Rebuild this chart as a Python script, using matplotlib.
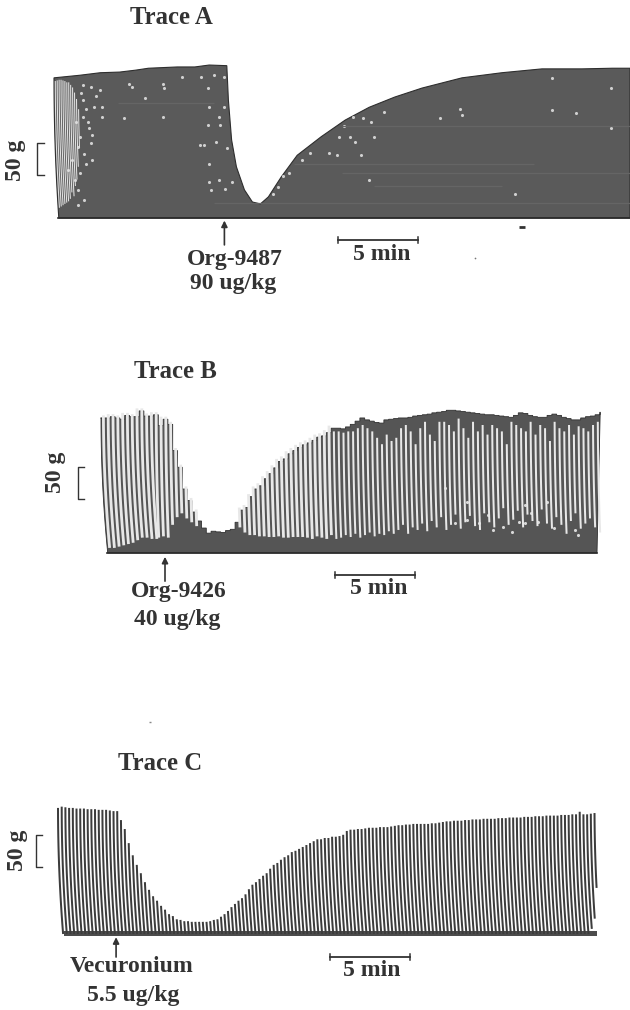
import numpy as np
import matplotlib
matplotlib.use('Agg')
import matplotlib.pyplot as plt
from matplotlib.collections import LineCollection

W, H = 630, 1010
PX_MIN = 16.0   # 5 min = 80 px
PX_G = 0.64     # 50 g = 32 px
DARK = '#3c3c3c'
GRAY = '#555555'
INK = '#333333'

# Trace A: outline of the recording (minutes, grams)
a_t = [0, 1.6, 2.9, 4.1, 5.1, 5.9, 7.7, 8.8, 9.7, 10.8, 10.9, 11.1, 11.4, 11.9, 12.4, 12.9,
       13.4, 14.2, 15.2, 16.7, 18.2, 19.7, 21.3, 23.0, 25.5, 28.0, 30.5, 33.0, 34.9, 35.8]
a_g = [219, 223, 227, 228, 231, 234, 236, 236, 239, 238, 184, 122, 80, 44, 25, 22,
       33, 64, 98, 127, 153, 173, 189, 203, 219, 227, 233, 233, 234, 234]

# Trace A: small white holes left in the dark mass
a_hole_t = [4.7, 4.9, 5.7, 6.8, 6.9, 8.0, 9.2, 9.6, 10.0, 10.6, 9.7, 10.6, 4.4, 6.8, 9.6, 10.3, 10.4,
            9.1, 9.4, 10.1, 10.8, 9.7, 9.7, 10.3, 11.1, 9.8, 10.7, 18.1, 18.7, 19.3, 19.8, 17.8, 18.5,
            18.8, 20.0, 17.2, 17.7, 19.2, 19.7, 20.6, 25.4, 25.5, 24.1, 28.8, 31.1, 31.1, 34.8, 34.8,
            32.6, 1.8, 2.3, 2.9, 1.8, 2.5, 3.0, 3.0, 1.8, 2.1, 1.6, 2.4, 2.3, 1.5, 2.0, 2.4, 1.5, 1.9,
            1.5, 1.1, 0.9, 16.0, 15.5, 14.7, 14.3, 14.0, 13.7, 1.7, 2.0, 2.2, 1.4, 1.9, 1.6, 2.6, 1.3]
a_hole_g = [210, 205, 187, 210, 203, 221, 221, 203, 223, 221, 174, 174, 156, 158, 145, 158, 145,
            114, 114, 119, 109, 85, 57, 59, 57, 44, 46, 143, 158, 156, 150, 127, 127,
            119, 127, 101, 98, 98, 59, 166, 171, 161, 156, 37, 218, 169, 203, 140,
            164, 208, 205, 200, 184, 174, 174, 158, 158, 150, 127, 130, 117, 111, 85, 91, 44, 28,
            20, 91, 75, 101, 91, 70, 65, 49, 38, 195, 170, 140, 150, 100, 70, 190, 60]

# Trace A: open strokes at the very start
a_open_t = [0.08, 0.2, 0.32, 0.44, 0.56, 0.68, 0.8, 0.92, 1.04, 1.16, 1.28, 1.4, 1.52]
a_open_top = [214, 215, 216, 216, 215, 214, 212, 212, 208, 204, 196, 186, 170]
a_open_low = [16, 18, 20, 22, 24, 26, 30, 40, 34, 50, 60, 80, 110]

# Trace A: faint horizontal streaks (grams, from, to in minutes)
a_streak_g = [180, 143, 85, 70, 23, 50]
a_streak_from = [4, 18, 15, 18, 10, 20]
a_streak_to = [10, 36, 30, 36, 36, 28]

# Trace B: one value per twitch, grams
b_top = [211, 211, 213, 211, 209, 215, 213, 213, 222, 214, 214, 216, 199, 209, 201, 160, 134, 100, 82, 64,
         50, 39, 31, 34, 33, 32, 35, 37, 48, 67, 71, 88, 100, 105, 116, 124, 133, 143, 147, 155,
         160, 165, 169, 172, 176, 181, 183, 188, 195, 195, 194, 197, 201, 206, 211, 208, 206, 204, 203, 208,
         209, 210, 211, 211, 212, 214, 215, 216, 217, 219, 220, 221, 223, 223, 222, 221, 220, 219, 218, 217,
         216, 216, 215, 214, 213, 212, 215, 219, 218, 215, 213, 212, 212, 215, 217, 215, 212, 210, 208, 208,
         211, 213, 214, 216, 220]
b_low = [8, 8, 10, 12, 14, 16, 20, 24, 24, 22, 22, 24, 26, 24, 44, 56, 62, 54, 48, 42,
         50, 39, 31, 34, 33, 32, 35, 37, 40, 32, 28, 28, 26, 26, 25, 25, 26, 24, 24, 25,
         25, 25, 24, 22, 26, 24, 22, 28, 22, 24, 28, 25, 30, 24, 28, 32, 26, 30, 28, 34,
         30, 36, 44, 30, 40, 36, 46, 34, 50, 40, 56, 36, 44, 60, 38, 48, 58, 42, 36, 62,
         48, 40, 54, 70, 44, 52, 66, 40, 60, 50, 42, 68, 46, 38, 56, 44, 30, 50, 62, 38,
         46, 54, 40, 32, 48]
# height where the gap closes, from twitch 48 onward
b_shut = [190, 190, 188, 190, 190, 195, 200, 195, 190, 180, 170, 185, 175, 180, 195, 200, 190, 170, 195, 205,
          185, 175, 205, 205, 200, 190, 210, 195, 180, 205, 190, 200, 185, 200, 195, 190, 170, 205, 200, 195,
          190, 205, 185, 200, 195, 175, 205, 195, 190, 200, 185, 198, 195, 190, 200, 205, 205]
b_hole_t = [22.1, 22.9, 23.6, 24.5, 25.1, 25.7, 26.1, 26.5, 26.9, 27.3, 28.3, 29.6, 29.8, 21.5, 22.9, 24.2, 26.5, 27.9]
b_hole_g = [47, 52, 47, 36, 41, 33, 48, 47, 62, 48, 39, 36, 28, 102, 80, 59, 75, 80]

# Trace C: one value per twitch, grams
c_top = [197, 199, 198, 197, 197, 196, 196, 196, 195, 195, 195, 194, 194, 194, 193, 192, 192,
         178, 164, 142, 123, 108, 95, 81, 69, 59, 52, 44, 38, 31, 28, 23, 22, 20, 20, 19, 19, 19, 19, 19,
         20, 22, 23, 27, 31, 36, 42, 47, 52, 56, 62, 70, 77, 81, 86, 91, 95, 102, 108, 111,
         116, 120, 123, 128, 130, 133, 136, 139, 142, 145, 148, 148, 150, 150, 152, 152, 153, 155, 161, 163, 163,
         164, 164, 165, 166, 166, 166, 167, 167, 167, 168, 169, 170, 170, 171, 171, 172, 172, 172, 172, 172,
         173, 173, 174, 175, 176, 176, 177, 177, 177, 178, 178, 179, 179, 179, 180, 180, 180, 180, 181, 181,
         181, 182, 182, 182, 182, 183, 183, 183, 184, 184, 184, 185, 185, 185, 185, 186, 186, 186, 187, 187,
         191, 187, 187, 188, 189, 189]
c_foot = [0] * 143 + [8, 24, 72]

titles = ['Trace A', 'Trace B', 'Trace C']
drug_names = ['Org-9487', 'Org-9426', 'Vecuronium']
drug_doses = ['90 ug/kg', '40 ug/kg', '5.5 ug/kg']

plt.rcParams['font.family'] = ['Liberation Serif', 'DejaVu Serif']
fig = plt.figure(figsize=(W / 100, H / 100), dpi=100, facecolor='white')


def trace_axes(x0, base):
    # full figure axes, x in minutes from x0 and y in grams from the baseline
    ax = fig.add_axes([0, 0, 1, 1])
    ax.set_xlim(-x0 / PX_MIN, (W - x0) / PX_MIN)
    ax.set_ylim(-(H - base) / PX_G, base / PX_G)
    ax.axis('off')
    ax.patch.set_alpha(0)
    return ax


def label(x, y, s, size, rot=0):
    fig.text(x / W, 1 - y / H, s, ha='center', va='center', fontsize=size, fontweight='bold',
             color=INK, rotation=rot)


def pen(t, top, bottom, lean, full):
    # twitch stroke: the pen moves on an arc, so the foot drifts right
    h = np.linspace(bottom, top, 14)
    return np.column_stack([t + lean * (1 - h / full) ** 2, h])


def bracket(ax, t, g):
    ax.plot([t + 0.4, t, t, t + 0.4], [g, g, g + 50, g + 50], color=INK, lw=1.0)


def scale_bar(ax, t, g):
    ax.plot([t, t + 5], [g, g], color=INK, lw=1.3)
    for e in (t, t + 5):
        ax.plot([e, e], [g - 5, g + 5], color=INK, lw=1.1)


def dose_arrow(ax, t, g_from, g_to):
    ax.annotate('', xy=(t, g_to), xytext=(t, g_from),
                arrowprops=dict(arrowstyle='-|>', color=INK, lw=1.2, mutation_scale=9, shrinkA=0, shrinkB=0))


# ---- Trace A
ax = trace_axes(54, 218)
h = np.linspace(0, a_g[0], 15)
left_x = 0.3 * (1 - h / a_g[0]) ** 2
xs = list(left_x) + a_t + [a_t[-1] + 0.2, a_t[-1] + 0.2]
ys = list(h) + a_g + [a_g[-1], 0]
ax.fill(xs, ys, facecolor='#5a5a5a', edgecolor='#2e2e2e', lw=0.8)
ax.hlines(a_streak_g, a_streak_from, a_streak_to, color='#656565', lw=0.9)
ax.add_collection(LineCollection(
    [pen(t, top, low, 0.3, 219) for t, top, low in zip(a_open_t, a_open_top, a_open_low)],
    colors='#e2e2e2', linewidths=0.75))
ax.scatter(a_hole_t, a_hole_g, s=5, color='#d0d0d0', linewidths=0)
ax.plot([0.25, 36], [0, 0], color='#2a2a2a', lw=1.2)
ax.scatter([29.25], [-14], s=14, marker='_', color='#333333', linewidths=2)
ax.scatter([26.3], [-62], s=1.5, color='#777777', linewidths=0)
bracket(ax, -1.05, 67)
scale_bar(ax, 17.75, -34)
dose_arrow(ax, 10.65, -42, -4)

# ---- Trace B
ax = trace_axes(101, 553)
t_b = np.arange(len(b_top)) * 0.3
top_b = np.array(b_top, dtype=float)
low_b = np.array(b_low, dtype=float)
shut_b = np.minimum(np.r_[top_b[:48] + 8, b_shut], np.r_[top_b[:48] + 8, top_b[48:]])
h = np.linspace(0, top_b[0], 15)
xs = list(0.42 * (1 - h / top_b[0]) ** 2)
ys = list(h)
for i in range(len(t_b)):
    xs += [t_b[i] - 0.02, min(t_b[i] + 0.28, t_b[-1])]
    ys += [top_b[i], top_b[i]]
xs += [t_b[-1] - 0.2]
ys += [0]
ax.fill(xs, ys, facecolor=GRAY, edgecolor='#303030', lw=0.6)
gaps, gap_w = [], []
for i in range(len(t_b) - 1):
    hi = max(top_b[i], top_b[i + 1]) + 4 if i < 48 else shut_b[i]
    if low_b[i] < top_b[i] - 1:
        gaps.append(pen(t_b[i] + 0.15, hi, low_b[i], 0.2 if i > 10 else 0.42, 222))
        gap_w.append(2.8 * 0.72 if i < 48 else 2.0 * 0.72)
ax.add_collection(LineCollection(gaps, colors='#e8e8e8', linewidths=gap_w))
ax.scatter(b_hole_t, b_hole_g, s=5, color='#d8d8d8', linewidths=0)
ax.plot([0.4, t_b[-1] - 0.2], [0, 0], color='#2a2a2a', lw=1.2)
bracket(ax, -1.44, 84)
scale_bar(ax, 14.6, -34)
dose_arrow(ax, 4.0, -44, -6)

# ---- Trace C
ax = trace_axes(58, 934)
t_c = np.arange(len(c_top)) * 0.23125
strokes = [pen(t, top, foot, 0.32, 199) for t, top, foot in zip(t_c, c_top, c_foot)]
ax.add_collection(LineCollection(strokes, colors=DARK, linewidths=2.0 * 0.72))
ax.fill_between([0.4, t_c[-1] - 0.1], [-3, -3], [4, 4], color='#4c4c4c', lw=0)
ax.scatter([5.75], [331], s=3, marker='_', color='#888888', linewidths=1)
bracket(ax, -1.38, 105)
scale_bar(ax, 17.0, -36)
dose_arrow(ax, 3.63, -36, -5)

# ---- text
size = 17
label(171, 17, titles[0], 17.8)
label(175, 372, titles[1], 17.8)
label(160, 763, titles[2], 17.8)
for (nx, ny, dx, dy), name, dose in zip([(235, 259, 233, 284), (179, 592, 177, 619), (132, 967, 133, 996)],
                                        drug_names, drug_doses):
    label(nx, ny, name, size)
    label(dx, dy, dose, size)
label(382, 254, '5 min', size)
label(379, 588, '5 min', size)
label(372, 970, '5 min', size)
label(15, 160, '50 g', size, rot=90)
label(56, 472, '50 g', size, rot=90)
label(18, 850, '50 g', size, rot=90)

fig.savefig('out.png', dpi=100, facecolor='white')
